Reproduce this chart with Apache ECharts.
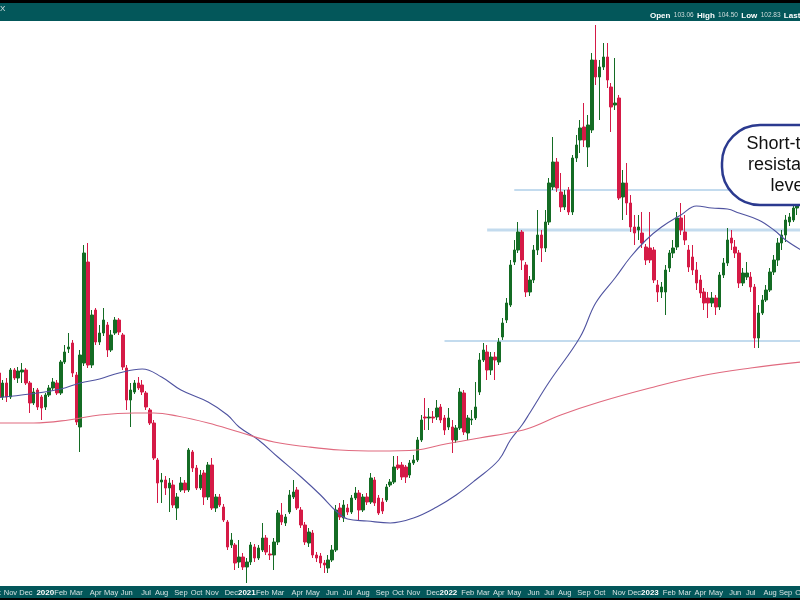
<!DOCTYPE html>
<html><head><meta charset="utf-8">
<script src="https://cdn.jsdelivr.net/npm/echarts@6/dist/echarts.min.js"></script>
<style>html,body{margin:0;padding:0;background:#fff}#c{width:800px;height:600px}</style>
</head><body><div id="c"></div>
<script>
// ---- data ----
const firstWeek = [2019, 9, 7];      // Monday 2019-10-07
const weekCount = 209;
const monthNames = ['Jan','Feb','Mar','Apr','May','Jun','Jul','Aug','Sep','Oct','Nov','Dec'];
const headerLabels = ['Open','High','Low','Last'];
const headerValues = ['103.06','104.50','102.83',''];
const calloutText = ['Short-term','resistance','level'];

// [open, close, low, high] weekly
const ohlc = [
[97.0,96.25,96.1,97.2],[97.35,96.15,96.0,97.6],[96.15,96.85,96.0,97.0],[96.85,96.15,95.9,97.1],
[96.15,97.5,96.05,97.6],[97.5,97.1,97.0,97.6],[97.1,97.45,96.85,97.65],[97.4,97.5,96.85,97.85],
[97.5,96.85,96.75,97.6],[96.85,95.85,95.35,96.95],[95.85,96.4,95.75,96.6],[96.5,95.65,95.5,96.6],
[96.15,95.6,95.0,96.25],[95.65,96.25,95.5,96.35],[96.25,96.6,96.15,96.75],[96.6,96.9,96.5,97.1],
[96.85,96.35,96.25,97.0],[96.35,97.9,96.25,98.0],[97.9,98.4,97.8,98.75],[98.55,98.65,98.35,99.35],
[98.85,97.35,97.15,99.0],[97.25,94.9,94.75,97.4],[94.65,98.25,93.4,98.5],[97.85,103.35,97.7,103.75],
[102.9,97.75,97.6,103.85],[97.75,100.25,97.6,100.5],[100.5,98.9,98.75,100.6],[98.9,99.35,98.75,99.75],
[99.35,100.0,99.2,100.6],[99.75,98.5,98.15,99.9],[98.5,99.25,98.4,99.5],[99.35,100.0,99.25,100.15],
[100.0,99.4,99.25,100.1],[99.25,97.65,97.5,99.35],[97.6,96.0,95.5,97.75],[96.0,96.5,94.65,96.85],
[96.4,96.85,96.3,97.0],[96.85,96.6,96.5,97.15],[96.75,96.4,96.25,97.0],[96.35,95.65,95.5,96.45],
[95.5,94.85,94.75,95.6],[94.85,93.1,93.0,95.0],[93.0,91.85,90.85,93.1],[91.9,92.0,90.85,92.35],
[92.0,91.6,91.25,92.2],[91.6,91.85,90.4,92.1],[91.75,90.75,90.6,92.0],[90.6,91.15,90.0,91.35],
[91.5,91.85,91.4,92.15],[91.85,91.5,91.35,92.0],[91.5,93.5,91.4,93.6],[93.4,92.6,92.4,93.5],
[92.6,91.6,91.5,92.75],[91.6,92.25,91.5,92.5],[92.35,91.15,90.75,92.5],[91.15,92.75,91.0,92.9],
[92.75,90.6,90.5,93.1],[90.6,91.15,90.4,91.3],[91.15,90.75,90.65,91.3],[90.65,90.0,89.9,90.8],
[89.9,88.65,88.5,90.0],[88.75,89.0,88.6,89.35],[88.75,87.85,87.5,88.85],[87.9,88.15,87.6,89.0],
[88.15,87.65,87.5,88.35],[87.65,87.9,86.85,88.1],[87.9,88.75,87.75,88.9],[88.65,88.1,87.9,88.8],
[88.1,88.6,88.0,88.75],[88.5,89.1,88.4,89.85],[89.1,88.4,88.25,89.25],[88.3,88.25,88.0,88.75],
[88.25,88.9,87.5,89.1],[88.9,90.35,88.75,90.5],[90.25,89.9,89.75,90.85],[89.85,90.15,89.7,90.3],
[90.4,91.25,90.3,91.5],[91.15,91.4,91.05,92.0],[91.5,90.6,90.5,91.65],[90.5,89.75,89.6,90.65],
[89.75,88.9,88.75,89.9],[88.85,89.4,88.65,89.6],[89.35,88.25,88.1,89.5],[88.25,88.1,87.9,88.4],
[88.2,87.85,87.6,88.35],[87.85,87.75,87.35,88.0],[87.6,88.0,87.35,88.25],[88.0,88.5,87.9,88.75],
[88.5,90.5,88.4,90.75],[90.6,90.15,90.0,90.85],[90.1,90.75,89.9,91.0],[90.6,90.4,90.25,90.8],
[90.4,91.1,90.3,91.25],[91.1,91.35,91.0,91.65],[91.35,90.5,90.0,91.5],[90.5,91.15,90.4,91.3],
[91.15,90.9,90.75,91.35],[90.9,92.1,90.8,92.35],[92.0,90.85,90.7,92.15],[91.1,90.35,90.25,91.25],
[90.9,90.45,90.3,91.1],[91.0,91.65,90.9,91.8],[91.75,91.9,91.65,92.05],[91.9,92.65,91.8,93.2],
[92.75,92.6,92.5,93.2],[92.75,92.15,92.0,92.9],[92.65,92.15,91.85,92.75],[92.25,92.85,92.1,93.0],
[92.85,93.0,92.75,93.25],[93.0,94.0,92.9,94.15],[94.0,95.0,93.9,95.25],[95.15,95.1,94.5,96.1],
[95.1,95.15,94.5,95.6],[95.15,95.1,94.85,95.45],[95.15,95.6,95.0,96.0],[95.65,95.0,94.85,95.8],
[95.1,94.5,94.25,95.25],[94.65,95.1,94.5,95.6],[94.65,94.0,93.35,95.0],[94.0,94.6,93.85,94.75],
[94.6,96.4,94.5,96.6],[96.35,94.4,94.25,96.5],[94.35,95.1,94.0,95.25],[95.0,95.05,94.75,95.5],
[95.1,95.65,95.0,96.9],[96.4,98.0,96.25,98.35],[98.0,98.5,97.9,98.85],[98.4,97.5,97.0,98.75],
[97.5,98.15,97.25,98.4],[98.15,98.0,97.0,98.4],[97.9,98.9,97.75,99.1],[99.15,99.85,99.0,100.1],
[100.0,100.85,99.85,101.1],[100.75,102.75,100.65,103.0],[102.9,103.5,102.75,104.0],[103.5,104.4,103.35,104.9],
[104.4,103.0,102.5,104.5],[102.75,101.4,101.15,102.9],[101.4,102.0,101.2,102.2],[102.0,103.5,101.85,103.75],
[103.5,104.25,103.25,105.5],[104.25,103.6,102.9,104.5],[103.6,104.9,103.4,105.5],[104.9,106.85,104.75,107.1],
[106.65,107.9,106.5,109.15],[107.9,106.6,106.4,108.1],[106.4,105.65,105.4,107.35],[105.65,106.25,105.5,106.5],
[106.5,105.4,105.25,106.65],[105.4,108.1,105.25,108.25],[108.1,108.75,107.9,109.25],[109.0,109.6,108.35,110.0],
[109.65,109.0,108.65,110.85],[108.65,109.75,107.65,110.25],[109.5,113.0,109.35,113.35],[113.0,112.15,111.75,114.75],
[112.15,112.65,110.0,113.0],[112.65,113.15,112.5,113.85],[113.15,112.0,111.6,113.85],[111.65,110.65,109.4,111.85],
[110.75,110.85,110.5,113.1],[111.1,106.1,106.0,111.25],[106.15,106.85,105.0,107.5],[106.85,105.85,105.25,107.85],
[105.85,104.65,104.4,106.25],[104.65,104.35,103.75,105.25],[104.5,104.65,104.0,105.25],[104.35,103.85,103.6,105.4],
[103.65,103.0,102.75,103.8],[103.6,103.0,102.85,105.4],[103.5,102.0,101.85,103.65],[101.75,101.4,100.9,102.0],
[101.4,101.65,101.1,101.9],[101.4,102.5,100.25,102.75],[102.6,103.35,102.4,103.5],[103.35,103.6,103.1,104.0],
[103.65,105.1,103.5,105.4],[105.1,104.5,104.25,105.85],[104.4,104.0,103.75,105.25],[103.5,102.65,102.4,103.75],
[103.15,102.5,102.25,103.75],[102.5,101.85,101.5,102.9],[102.0,101.35,101.1,102.25],[101.4,100.85,100.5,101.6],
[101.1,100.85,100.1,101.4],[100.85,101.1,100.65,101.4],[101.1,100.65,100.25,101.25],[100.65,102.25,100.5,102.4],
[102.25,102.85,102.1,103.1],[102.85,104.0,102.7,104.6],[104.1,103.85,103.5,104.5],[103.65,103.35,103.1,104.0],
[103.35,101.85,101.6,103.5],[101.85,102.35,101.7,102.6],[102.15,102.35,102.0,102.9],[102.15,101.65,101.4,102.4],
[101.65,99.1,98.6,101.8],[99.1,100.35,98.6,100.75],[100.35,101.0,100.25,101.25],[101.0,101.5,100.9,101.75],
[101.5,102.4,101.4,102.6],[102.4,103.0,102.25,103.25],[103.0,103.85,102.7,104.1],[103.85,104.25,103.5,104.5],
[104.25,105.0,103.9,105.25],[104.9,105.15,104.7,105.35],[105.0,105.6,104.9,105.75],[105.6,105.9,105.25,106.1]
];

// moving averages read at [week index, value]
const maFast = [[0,96.1],[9,96.3],[17,96.55],[22,96.85],[27,97.05],[32,97.35],[38,97.55],[43,97.15],
[48,96.5],[55,95.9],[60,95.25],[63,94.65],[68,94.0],[73,93.15],[79,92.15],[84,91.25],[88,90.45],[91,90.05],
[96,89.95],[102,89.85],[108,90.1],[114,90.65],[119,91.25],[124,92.0],[130,93.0],[133,94.0],[136,94.75],
[138,95.35],[143,96.9],[151,99.15],[155,100.85],[160,102.1],[164,103.15],[168,104.0],[172,104.65],
[177,105.25],[181,105.7],[185,105.6],[189,105.55],[192,105.35],[197,105.0],[201,104.5],[204,104.0],[208,103.5]];
const maSlow = [[0,94.85],[10,94.85],[19,95.0],[27,95.25],[36,95.35],[41,95.35],[47,95.2],[55,94.85],
[63,94.4],[72,93.9],[81,93.65],[89,93.5],[99,93.45],[109,93.5],[115,93.75],[125,94.1],[134,94.4],[138,94.6],
[146,95.25],[156,95.9],[169,96.6],[182,97.2],[195,97.6],[208,97.9]];

const levels = [106.5, 104.5, 98.95];
const levelStart = [134, 127, 116];

// ---- build ----
const categories = [];
const t0 = Date.UTC(firstWeek[0], firstWeek[1], firstWeek[2]);
for (let k = 0; k < weekCount; k++) {
  categories.push(new Date(t0 + k * 7 * 86400000).toISOString().slice(0, 10));
}
const lastIdx = weekCount - 1;
const FONT = '"Liberation Sans", Arial, Helvetica, sans-serif';

const levelSeries = levels.map((v, k) => ({
  type: 'line', data: [[levelStart[k], v], [lastIdx, v]], symbol: 'none', silent: true, z: 1,
  lineStyle: { color: '#c3dbee', width: k === 1 ? 3 : 2 }
}));

let headerRich = '';
headerLabels.forEach((l, k) => { headerRich += '{b|' + l + '} ' + (headerValues[k] ? '{v|' + headerValues[k] + '} ' : ''); });

const chart = echarts.init(document.getElementById('c'));
chart.setOption({
  animation: false,
  backgroundColor: '#ffffff',
  grid: { left: -7, top: 20, width: 810, height: 566, containLabel: false, outerBoundsMode: 'none' },
  xAxis: {
    type: 'category', data: categories, boundaryGap: true,
    axisLine: { show: false }, axisTick: { show: false }, splitLine: { show: false },
    axisLabel: {
      margin: 3, hideOverlap: false,
      interval: (i, v) => i === 0 || v.slice(5, 7) !== categories[i - 1].slice(5, 7),
      formatter: (v) => { const m = +v.slice(5, 7) - 1; return m === 0 ? '{y|' + v.slice(0, 4) + '}' : '{m|' + monthNames[m] + '}'; },
      rich: {
        y: { color: '#ffffff', fontWeight: 'bold', fontSize: 8, fontFamily: FONT },
        m: { color: '#d6e2e2', fontSize: 7.5, fontFamily: FONT }
      }
    }
  },
  yAxis: { type: 'value', min: 86.7, max: 115, show: false, splitLine: { show: false } },
  series: [
    ...levelSeries,
    {
      type: 'candlestick', data: ohlc, barWidth: 3, z: 2,
      itemStyle: { color: '#146c24', color0: '#d51a46', borderColor: '#146c24', borderColor0: '#d51a46', borderWidth: 1 }
    },
    { type: 'line', data: maFast, symbol: 'none', smooth: 0.4, z: 3, silent: true,
      lineStyle: { color: '#4f53a0', width: 1.1 } },
    { type: 'line', data: maSlow, symbol: 'none', smooth: 0.4, z: 3, silent: true,
      lineStyle: { color: '#e06a7f', width: 1.1 } }
  ],
  graphic: [
    { type: 'rect', z: -10, shape: { x: 0, y: 0, width: 800, height: 3 }, style: { fill: '#000000' } },
    { type: 'rect', z: -10, shape: { x: 0, y: 3, width: 800, height: 18 }, style: { fill: '#03575a' } },
    { type: 'rect', z: -10, shape: { x: 0, y: 586, width: 800, height: 12 }, style: { fill: '#03575a' } },
    { type: 'rect', z: -10, shape: { x: 0, y: 598, width: 800, height: 2 }, style: { fill: '#000000' } },
    { type: 'text', z: 50, x: 0, y: 8.5, style: { text: 'X', fill: '#d6e2e2', font: '8px ' + FONT, align: 'left', verticalAlign: 'middle', textAlign: 'left', textVerticalAlign: 'middle' } },
    { type: 'text', z: 50, x: 650, y: 15.5, style: {
        text: headerRich, align: 'left', verticalAlign: 'middle', textAlign: 'left', textVerticalAlign: 'middle',
        rich: {
          b: { fill: '#ffffff', color: '#ffffff', fontWeight: 'bold', fontSize: 8, fontFamily: FONT },
          v: { fill: '#cfdcdc', color: '#cfdcdc', fontSize: 6.5, fontFamily: FONT }
        } } },
    { type: 'rect', z: 100, shape: { x: 722, y: 125, width: 135, height: 80, r: 38 },
      style: { fill: '#ffffff', stroke: '#2b3a8f', lineWidth: 2.5 } },
    { type: 'text', z: 101, x: 789, y: 165.5, style: {
        text: calloutText.join('\n'), fill: '#111111', font: '18px ' + FONT, lineHeight: 21,
        align: 'center', verticalAlign: 'middle', textAlign: 'center', textVerticalAlign: 'middle' } }
  ]
});
</script></body></html>
